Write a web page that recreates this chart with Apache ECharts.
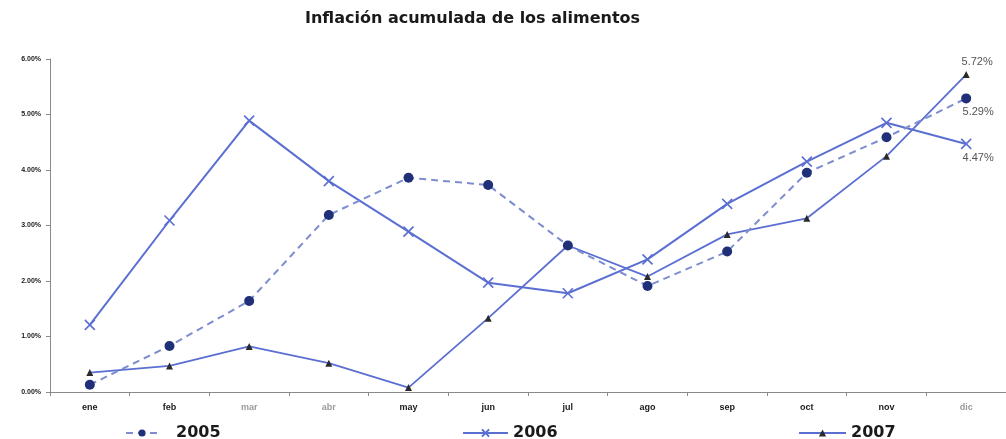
<!DOCTYPE html>
<html>
<head>
<meta charset="utf-8">
<script src="https://cdn.jsdelivr.net/npm/echarts@6/dist/echarts.min.js"></script>
<style>
  html, body { margin: 0; padding: 0; background: #fff; }
  #chart { width: 1006px; height: 439px; }
</style>
</head>
<body>
<div id="chart"></div>
<script>
// Months on the category axis
const months = ['ene', 'feb', 'mar', 'abr', 'may', 'jun', 'jul', 'ago', 'sep', 'oct', 'nov', 'dic'];
// Accumulated food inflation, percent
const infl2005 = [0.13, 0.83, 1.64, 3.19, 3.86, 3.73, 2.64, 1.91, 2.53, 3.95, 4.59, 5.29];
const infl2006 = [1.21, 3.09, 4.89, 3.80, 2.89, 1.97, 1.78, 2.39, 3.39, 4.15, 4.85, 4.47];
const infl2007 = [0.35, 0.47, 0.82, 0.52, 0.08, 1.33, 2.64, 2.08, 2.84, 3.13, 4.25, 5.72];
// Y-axis ticks (percent)
const yTicks = [0, 1, 2, 3, 4, 5, 6];

const lineBlue = '#5b6fd2';
const fmt = v => v.toFixed(2) + '%';

// Only the last point of each series carries a value label
function endLabel(pos, offset) {
  return {
    show: true, position: pos, offset: offset,
    formatter: p => p.dataIndex === months.length - 1 ? fmt(p.value) : '',
    fontFamily: 'Liberation Sans', fontSize: 11, color: '#555'
  };
}

function legendText(padLeft) {
  return {
    fontFamily: 'DejaVu Sans', fontWeight: 'bold', fontSize: 16, color: '#1a1a1a',
    padding: [0, 0, 0, padLeft]
  };
}

const chart = echarts.init(document.getElementById('chart'), null, { renderer: 'canvas' });
chart.setOption({
  animation: false,
  backgroundColor: '#fff',
  title: {
    text: 'Inflación acumulada de los alimentos',
    left: 300, top: 6,
    textStyle: { fontFamily: 'DejaVu Sans', fontWeight: 'bold', fontSize: 16, color: '#1a1a1a' }
  },
  grid: { left: 50, top: 59, width: 960, height: 333, containLabel: false },
  xAxis: {
    type: 'category',
    data: months,
    boundaryGap: true,
    axisLine: { lineStyle: { color: '#8a8a8a', width: 1 } },
    axisTick: { show: true, inside: false, length: 4, lineStyle: { color: '#8a8a8a' } },
    axisLabel: {
      margin: 11,
      fontFamily: 'Liberation Sans', fontWeight: 'bold', fontSize: 9,
      color: (v) => (v === 'mar' || v === 'abr' || v === 'dic') ? '#9a9a9a' : '#1a1a1a'
    },
    splitLine: { show: false }
  },
  yAxis: {
    type: 'value',
    min: yTicks[0], max: yTicks[yTicks.length - 1], interval: 1,
    axisLine: { show: true, lineStyle: { color: '#8a8a8a', width: 1 } },
    axisTick: { show: true, length: 4, lineStyle: { color: '#8a8a8a' } },
    axisLabel: {
      margin: 9,
      fontFamily: 'Liberation Sans', fontWeight: 'bold', fontSize: 7, color: '#1a1a1a',
      formatter: v => fmt(v)
    },
    splitLine: { show: false }
  },
  legend: [
    { data: ['2005'], left: 120, top: 420, itemWidth: 32, itemHeight: 9, textStyle: legendText(13) },
    { data: ['2006'], left: 457, top: 420, itemWidth: 45, itemHeight: 9, textStyle: legendText(0) },
    { data: ['2007'], left: 793, top: 420, itemWidth: 47, itemHeight: 9, textStyle: legendText(0) }
  ],
  series: [
    {
      name: '2005', type: 'line', data: infl2005,
      symbol: 'circle', symbolSize: 10,
      itemStyle: { color: '#1f2f78' },
      lineStyle: { color: '#7d8dd0', width: 2, type: [7, 5] },
      label: endLabel('bottom', [12, -2]),
      z: 3
    },
    {
      name: '2006', type: 'line', data: infl2006,
      symbol: 'path://M0,0 L10,10 M10,0 L0,10', symbolSize: 10,
      itemStyle: { color: 'none', borderColor: lineBlue, borderWidth: 1.6 },
      lineStyle: { color: lineBlue, width: 2 },
      label: endLabel('bottom', [12, -4]),
      z: 2
    },
    {
      name: '2007', type: 'line', data: infl2007,
      symbol: 'triangle', symbolSize: 7,
      itemStyle: { color: '#2a2a2a' },
      lineStyle: { color: lineBlue, width: 1.8 },
      label: endLabel('top', [11, 1]),
      z: 2
    }
  ]
});
</script>
</body>
</html>
